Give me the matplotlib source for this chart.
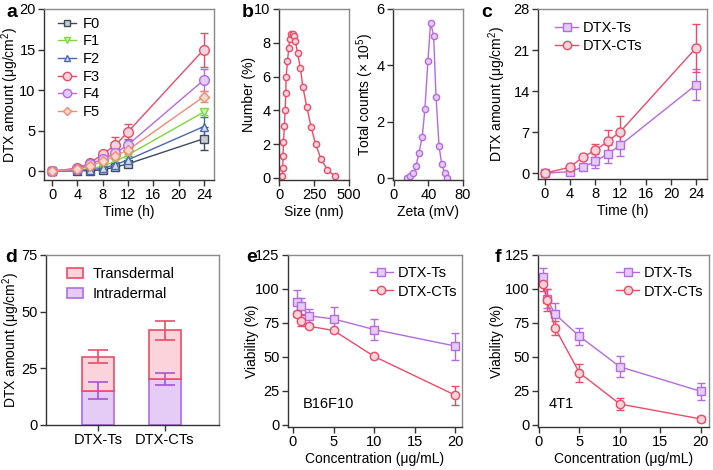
import matplotlib
matplotlib.use('Agg')
import matplotlib.pyplot as plt
from matplotlib.patches import Patch
from matplotlib.lines import Line2D

plt.rcParams['font.family'] = ['Liberation Sans', 'DejaVu Sans']
plt.rcParams['mathtext.fontset'] = 'custom'
plt.rcParams['mathtext.rm'] = 'Liberation Sans'
plt.rcParams['mathtext.it'] = 'Liberation Sans:italic'
plt.rcParams['font.size'] = 10

# ---------------- data ----------------
# panel a
time_a = [0, 4, 6, 8, 10, 12, 24]
F0 = [0, 0.03, 0.05, 0.16, 0.5, 0.9, 4.0]
F1 = [0, 0.1, 0.3, 0.6, 1.2, 2.0, 7.3]
F2 = [0, 0.08, 0.15, 0.35, 0.8, 1.4, 5.5]
F3 = [0, 0.35, 1.0, 2.1, 3.2, 4.85, 15.0]
F4 = [0, 0.3, 0.85, 1.5, 2.2, 3.25, 11.25]
F5 = [0, 0.2, 0.65, 1.2, 1.9, 2.6, 9.2]
F0_err = [0, 0.05, 0.05, 0.1, 0.2, 0.2, 1.4]
F1_err = [0, 0.05, 0.1, 0.2, 0.3, 0.4, 0.4]
F2_err = [0, 0.05, 0.1, 0.15, 0.3, 0.5, 1.2]
F3_err = [0, 0.1, 0.2, 0.3, 1.0, 0.9, 2.1]
F4_err = [0, 0.1, 0.2, 0.3, 0.5, 0.6, 1.4]
F5_err = [0, 0.1, 0.2, 0.3, 0.4, 0.5, 0.7]
labels_a = ['F0', 'F1', 'F2', 'F3', 'F4', 'F5']

# panel b (size distribution)
size_nm = [19, 24, 26, 29, 36, 41, 46, 48, 58, 67, 75, 84, 96, 103, 115, 130,
           151, 168, 197, 228, 260, 300, 344, 399]
number_pct = [0.1, 0.6, 1.3, 2.1, 3.1, 4.0, 5.0, 6.0, 6.9, 7.7, 8.2, 8.5, 8.5,
              8.4, 8.1, 7.4, 6.5, 5.4, 4.2, 3.0, 2.0, 1.1, 0.5, 0.1]
# panel b (zeta)
zeta_mv = [15.6, 19, 22.6, 25.8, 29, 32.8, 35.9, 39.4, 42.5, 46, 48.8, 52.3,
           55.4, 58.9, 61.7]
counts_1e5 = [0.0, 0.06, 0.17, 0.44, 0.89, 1.45, 2.44, 4.15, 5.52, 5.05, 2.89,
              1.12, 0.5, 0.18, 0.0]

# panel c
time_c = [0, 4, 6, 8, 10, 12, 24]
Ts_c = [0, 0.25, 1.0, 2.0, 3.3, 4.8, 15.1]
Ts_c_err = [0, 0.2, 0.3, 1.2, 1.5, 1.9, 2.6]
CTs_c = [0, 1.0, 2.7, 3.9, 5.4, 7.1, 21.4]
CTs_c_err = [0, 0.4, 0.3, 1.1, 2.0, 2.6, 4.1]

# panel d
groups_d = ['DTX-Ts', 'DTX-CTs']
intradermal = [15.1, 20.3]
intradermal_err = [3.7, 2.8]
transdermal = [15.1, 21.4]
total_err = [2.8, 4.2]

# panel e (B16F10)
conc = [0.5, 1, 2, 5, 10, 20]
Ts_e = [90.3, 87.6, 80.2, 78.0, 70.2, 58.0]
Ts_e_err = [9, 6, 5, 9, 7.8, 10]
CTs_e = [81.5, 76.8, 72.6, 69.5, 50.4, 21.8]
CTs_e_err = [2, 4, 1.5, 1, 1, 7]

# panel f (4T1)
Ts_f = [109, 93, 81.5, 65.3, 42.8, 24.7]
Ts_f_err = [6.5, 7, 8.5, 6.3, 7.8, 6.5]
CTs_f = [103.5, 92, 71.4, 38.4, 15.4, 4.4]
CTs_f_err = [5, 8, 5, 6.5, 4.5, 2]

# ---------------- styles ----------------
RED = '#EE4A68'
RED_F = '#FAD3DB'
PUR = '#B36AE2'
PUR_F = '#E4CCF6'
colors_a = ['#3D4B5F', '#7BD83A', '#4A68AE', RED, PUR, '#F38A70']
faces_a = ['#C9CBCF', '#D2F2B4', '#D4DCF0', RED_F, PUR_F, '#FCD9CC']
markers_a = ['s', 'v', '^', 'o', 'o', 'D']
msizes_a = [6, 6, 6, 7, 7, 5]

fig = plt.figure(figsize=(7.13, 4.70), dpi=100)
W, H = 713, 470


def add_ax(l, r, t, b):
    return fig.add_axes([l / W, 1 - b / H, (r - l) / W, (b - t) / H])


def style(ax, ylab_x):
    for s in ['left', 'bottom']:
        ax.spines[s].set_color('#333333')
        ax.spines[s].set_linewidth(1.0)
    for s in ['top', 'right']:
        ax.spines[s].set_color('#8a8a8a')
        ax.spines[s].set_linewidth(1.0)
    ax.tick_params(direction='out', length=4, width=1, color='#333333',
                   labelsize=10.5, pad=2)
    ax.yaxis.set_label_coords(ylab_x, 0.5)
    ax.yaxis.label.set_va('center')


def leg(ax, handles, labels, x, y, hl=1.6, htp=0.3, ls=0.3):
    ax.legend(handles, labels, loc='upper left', frameon=False,
              bbox_to_anchor=(x, y), borderaxespad=0, borderpad=0,
              handlelength=hl, labelspacing=ls, handletextpad=htp,
              fontsize=10.5)


# ---- panel a ----
ax = add_ax(44, 214, 9, 180)
series_a = [F0, F1, F2, F3, F4, F5]
errs_a = [F0_err, F1_err, F2_err, F3_err, F4_err, F5_err]
for i in range(6):
    ax.errorbar(time_a, series_a[i], yerr=errs_a[i], color=colors_a[i],
                marker=markers_a[i], ms=msizes_a[i], mfc=faces_a[i],
                mec=colors_a[i], mew=1.0, lw=1.0, capsize=3, elinewidth=1,
                label=labels_a[i])
ax.set_xlim(-1.3, 25.6)
ax.set_ylim(-1.1, 20)
ax.set_xticks([0, 4, 8, 12, 16, 20, 24])
ax.set_yticks([0, 5, 10, 15, 20])
ax.set_xlabel('Time (h)', labelpad=2)
ax.set_ylabel('DTX amount (μg/cm$^{2}$)')
style(ax, -0.2)
handles = [Line2D([], [], color=colors_a[i], marker=markers_a[i],
                  ms=msizes_a[i] - 1, mfc=faces_a[i], mec=colors_a[i], lw=1)
           for i in range(6)]
leg(ax, handles, labels_a, 0.085, 0.955, hl=1.2, htp=0.5, ls=0.25)

# ---- panel b left ----
ax = add_ax(279, 349, 9, 180)
ax.plot(size_nm, number_pct, color=RED, marker='o', ms=4.5, mfc=RED_F,
        mec=RED, mew=1, lw=1)
ax.set_xlim(-3, 500)
ax.set_ylim(-0.12, 10)
ax.set_xticks([0, 250, 500])
ax.set_yticks([0, 2, 4, 6, 8, 10])
ax.set_xlabel('Size (nm)', labelpad=2)
ax.set_ylabel('Number (%)')
style(ax, -0.43)

# ---- panel b right ----
ax = add_ax(393, 463, 9, 180)
ax.plot(zeta_mv, counts_1e5, color=PUR, marker='o', ms=4.5, mfc=PUR_F,
        mec=PUR, mew=1, lw=1)
ax.set_xlim(-1, 80)
ax.set_ylim(-0.07, 6)
ax.set_xticks([0, 40, 80])
ax.set_yticks([0, 2, 4, 6])
ax.set_xlabel('Zeta (mV)', labelpad=2)
ax.set_ylabel('Total counts (× 10$^{5}$)')
style(ax, -0.40)

# ---- panel c ----
ax = add_ax(538, 707, 9, 179)
ax.errorbar(time_c, Ts_c, yerr=Ts_c_err, color=PUR, marker='s', ms=6,
            mfc=PUR_F, mec=PUR, mew=1, lw=1, capsize=3, label='DTX-Ts')
ax.errorbar(time_c, CTs_c, yerr=CTs_c_err, color=RED, marker='o', ms=6.5,
            mfc=RED_F, mec=RED, mew=1, lw=1, capsize=3, label='DTX-CTs')
ax.set_xlim(-1.05, 25.7)
ax.set_ylim(-1.0, 28)
ax.set_xticks([0, 4, 8, 12, 16, 20, 24])
ax.set_yticks([0, 7, 14, 21, 28])
ax.set_xlabel('Time (h)', labelpad=2)
ax.set_ylabel('DTX amount (μg/cm$^{2}$)')
style(ax, -0.24)
hc = [Line2D([], [], color=PUR, marker='s', ms=6, mfc=PUR_F, mec=PUR, lw=1),
      Line2D([], [], color=RED, marker='o', ms=6, mfc=RED_F, mec=RED, lw=1)]
leg(ax, hc, ['DTX-Ts', 'DTX-CTs'], 0.10, 0.93)

# ---- panel d ----
ax = add_ax(46, 219, 255, 425)
xd = [0, 1]
bw = 0.49
ax.bar(xd, intradermal, width=bw, color=PUR_F, edgecolor=PUR, lw=1.2,
       label='Intradermal', zorder=2)
ax.bar(xd, transdermal, width=bw, bottom=intradermal, color=RED_F,
       edgecolor=RED, lw=1.2, label='Transdermal', zorder=2)
tot = [intradermal[i] + transdermal[i] for i in range(2)]
ax.errorbar(xd, intradermal, yerr=intradermal_err, fmt='none', ecolor='#A455D6',
            elinewidth=1.2, capsize=7, capthick=1.2, zorder=3)
ax.errorbar(xd, tot, yerr=total_err, fmt='none', ecolor=RED,
            elinewidth=1.2, capsize=7, capthick=1.2, zorder=3)
ax.set_xlim(-0.776, 1.806)
ax.set_ylim(0, 75)
ax.set_xticks(xd)
ax.set_xticklabels(groups_d)
ax.set_yticks([0, 25, 50, 75])
ax.set_ylabel('DTX amount (μg/cm$^{2}$)')
style(ax, -0.2)
ax.tick_params(axis='x', labelsize=10.5)
hd = [Patch(facecolor=RED_F, edgecolor=RED, lw=1.2),
      Patch(facecolor=PUR_F, edgecolor=PUR, lw=1.2)]
leg(ax, hd, ['Transdermal', 'Intradermal'], 0.12, 0.93, hl=1.1, htp=0.7,
    ls=0.45)


# ---- panels e, f ----
def viability(ax, ts, ts_err, cts, cts_err, cell, xl, ylx, lx):
    ax.errorbar(conc, ts, yerr=ts_err, color=PUR, marker='s', ms=6,
                mfc=PUR_F, mec=PUR, mew=1, lw=1, capsize=3, label='DTX-Ts')
    ax.errorbar(conc, cts, yerr=cts_err, color=RED, marker='o', ms=6,
                mfc=RED_F, mec=RED, mew=1, lw=1, capsize=3, label='DTX-CTs')
    ax.set_xlim(*xl)
    ax.set_ylim(-1.5, 125)
    ax.set_xticks([0, 5, 10, 15, 20])
    ax.set_yticks([0, 25, 50, 75, 100, 125])
    ax.set_xlabel('Concentration (μg/mL)', labelpad=2)
    ax.set_ylabel('Viability (%)')
    style(ax, ylx)
    hh = [Line2D([], [], color=PUR, marker='s', ms=6, mfc=PUR_F, mec=PUR,
                 lw=1),
          Line2D([], [], color=RED, marker='o', ms=6, mfc=RED_F, mec=RED,
                 lw=1)]
    leg(ax, hh, ['DTX-Ts', 'DTX-CTs'], lx, 0.935)
    ax.text(1.2, 15.4, cell, fontsize=10.5, ha='left', va='center')


ax = add_ax(288, 462, 255, 427)
viability(ax, Ts_e, Ts_e_err, CTs_e, CTs_e_err, 'B16F10', (-0.6, 20.8),
          -0.205, 0.47)

ax = add_ax(538, 709, 255, 427)
viability(ax, Ts_f, Ts_f_err, CTs_f, CTs_f_err, '4T1', (-0.1, 21.0),
          -0.237, 0.456)

# panel letters
for lab, x, y in [('a', 6, 4), ('b', 242, 4), ('c', 481, 4),
                  ('d', 5, 249), ('e', 246, 249), ('f', 495, 249)]:
    fig.text(x / W, 1 - y / H, lab, fontsize=14, fontweight='bold',
             ha='left', va='top')

fig.savefig('out.png', dpi=100)
